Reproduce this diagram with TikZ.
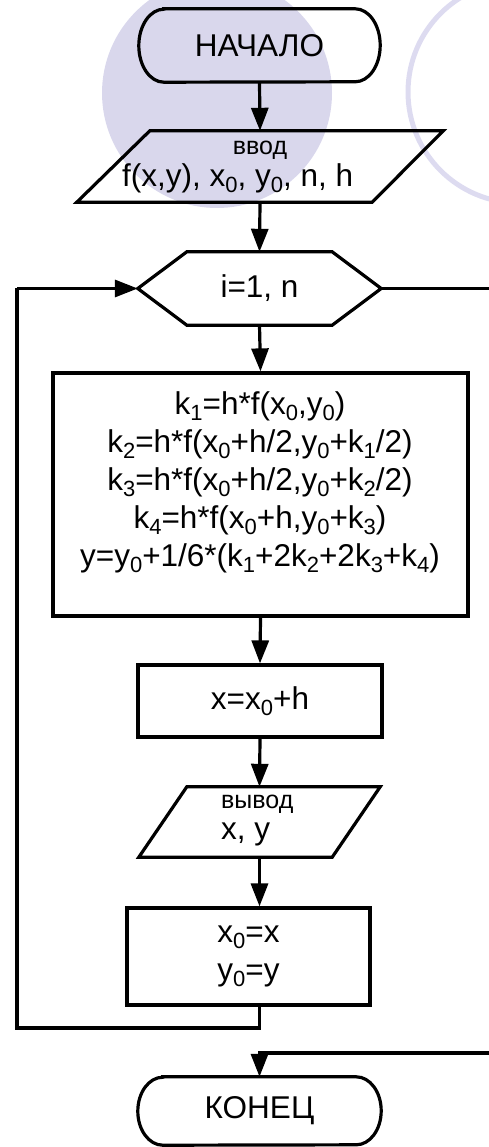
\documentclass[tikz,border=0pt]{standalone}
\usepackage{fontspec}
\setmainfont{Liberation Sans}
\usetikzlibrary{arrows.meta}
\newcommand\sbs[1]{\raisebox{-6pt}{\fontsize{22}{22}\selectfont #1}}
\definecolor{lav}{RGB}{217,215,236}
\definecolor{lavring}{RGB}{221,219,240}
\tikzset{
  x=1pt, y=-1pt,
  outline/.style={line width=3.2pt, line join=miter},
  conn/.style={line width=3.2pt},
  arr/.style={conn, -{Triangle[length=23pt,width=17pt]}},
  holder/.style={draw=none, inner sep=0pt},
  txt/.style={font=\fontsize{31.5}{38}\selectfont, inner sep=0pt, align=center},
  small/.style={font=\fontsize{25}{25}\selectfont, inner sep=0pt},
  boxed/.style={outline, draw, inner sep=0pt, font=\fontsize{31.5}{38}\selectfont, align=center}
}
\begin{document}
\begin{tikzpicture}
\useasboundingbox (0,0) rectangle (489,1147);
\clip (0,0) rectangle (489,1147);
% background decoration
\fill[lav] (217,93) circle[radius=115pt];
\draw[lavring, line width=5pt] (519,92) circle[radius=111pt];

% start terminal
\node[holder, minimum width=241pt, minimum height=73pt, txt] (start) at (259.5,45.5) {НАЧАЛО};
\draw[outline] ([xshift=25pt]start.north west) -- ([xshift=-25pt]start.north east)
  arc[start angle=90, end angle=-90, x radius=25pt, y radius=36.5pt]
  -- ([xshift=25pt]start.south west)
  arc[start angle=270, end angle=90, x radius=25pt, y radius=36.5pt] -- cycle;

% input parallelogram
\node[holder, minimum width=366pt, minimum height=71pt] (inp) at (260,166.5) {};
\draw[outline] ([xshift=73pt]inp.north west) -- (inp.north east)
  -- ([xshift=-71pt]inp.south east) -- (inp.south west) -- cycle;
\node[small] (inpa) at (260,150) {ввод};
\node[txt, anchor=west] (inpb) at (122,178) {f(x,y), x\sbs{0}, y\sbs{0}, n, h};

% loop hexagon
\node[holder, minimum width=243pt, minimum height=73pt, txt] (loop) at (259.5,288.5) {i=1, n};
\draw[outline] (loop.west) -- ([xshift=49pt]loop.north west) -- ([xshift=-49pt]loop.north east)
  -- (loop.east) -- ([xshift=-49pt]loop.south east) -- ([xshift=49pt]loop.south west) -- cycle;

% main computation box
\node[boxed, minimum width=415pt, minimum height=243pt] (calc) at (260.5,494.5) {};
\node[txt] (calctxt) at (260,482) {k\sbs{1}=h*f(x\sbs{0},y\sbs{0})\\
k\sbs{2}=h*f(x\sbs{0}+h/2,y\sbs{0}+k\sbs{1}/2)\\
k\sbs{3}=h*f(x\sbs{0}+h/2,y\sbs{0}+k\sbs{2}/2)\\
k\sbs{4}=h*f(x\sbs{0}+h,y\sbs{0}+k\sbs{3})\\
y=y\sbs{0}+1/6*(k\sbs{1}+2k\sbs{2}+2k\sbs{3}+k\sbs{4})};

% x = x0 + h
\node[boxed, minimum width=244pt, minimum height=72pt] (step) at (260,701) {x=x\sbs{0}+h};

% output parallelogram
\node[holder, minimum width=241pt, minimum height=70pt] (outp) at (259.5,822) {};
\draw[outline] ([xshift=48pt]outp.north west) -- (outp.north east)
  -- ([xshift=-48pt]outp.south east) -- (outp.south west) -- cycle;
\node[small, anchor=west] (outa) at (221,804) {вывод};
\node[txt, anchor=west] (outb) at (221,834) {x, y};

% x0 = x, y0 = y
\node[boxed, minimum width=243pt, minimum height=97pt] (upd) at (248.5,956.5) {x\sbs{0}=x\\y\sbs{0}=y};

% end terminal
\node[holder, minimum width=243pt, minimum height=68pt, txt] (stop) at (259.5,1111) {КОНЕЦ};
\draw[outline] ([xshift=25pt]stop.north west) -- ([xshift=-25pt]stop.north east)
  arc[start angle=90, end angle=-90, x radius=25pt, y radius=34pt]
  -- ([xshift=25pt]stop.south west)
  arc[start angle=270, end angle=90, x radius=25pt, y radius=34pt] -- cycle;

% connectors
\coordinate (lb) at (17,1028);
\coordinate (rt) at (497,288.5);
\coordinate (rb) at (497,1053);
\draw[arr] (start.south) -- (inp.north);
\draw[arr] (inp.south) -- (loop.north);
\draw[arr] (loop.south) -- (calc.north);
\draw[arr] (calc.south) -- (step.north);
\draw[arr] (step.south) -- (outp.north);
\draw[arr] (outp.south) -- (outp.south |- upd.north);
\draw[conn] (outp.south |- upd.south) -- (outp.south |- lb) -- (lb) -- (lb |- loop.west);
\draw[arr] (lb |- loop.west) -- (loop.west);
\draw[conn] (loop.east) -- (rt) -- (rb);
\draw[arr] (rb) -- (rb -| stop.north) -- (stop.north);
\end{tikzpicture}
\end{document}
